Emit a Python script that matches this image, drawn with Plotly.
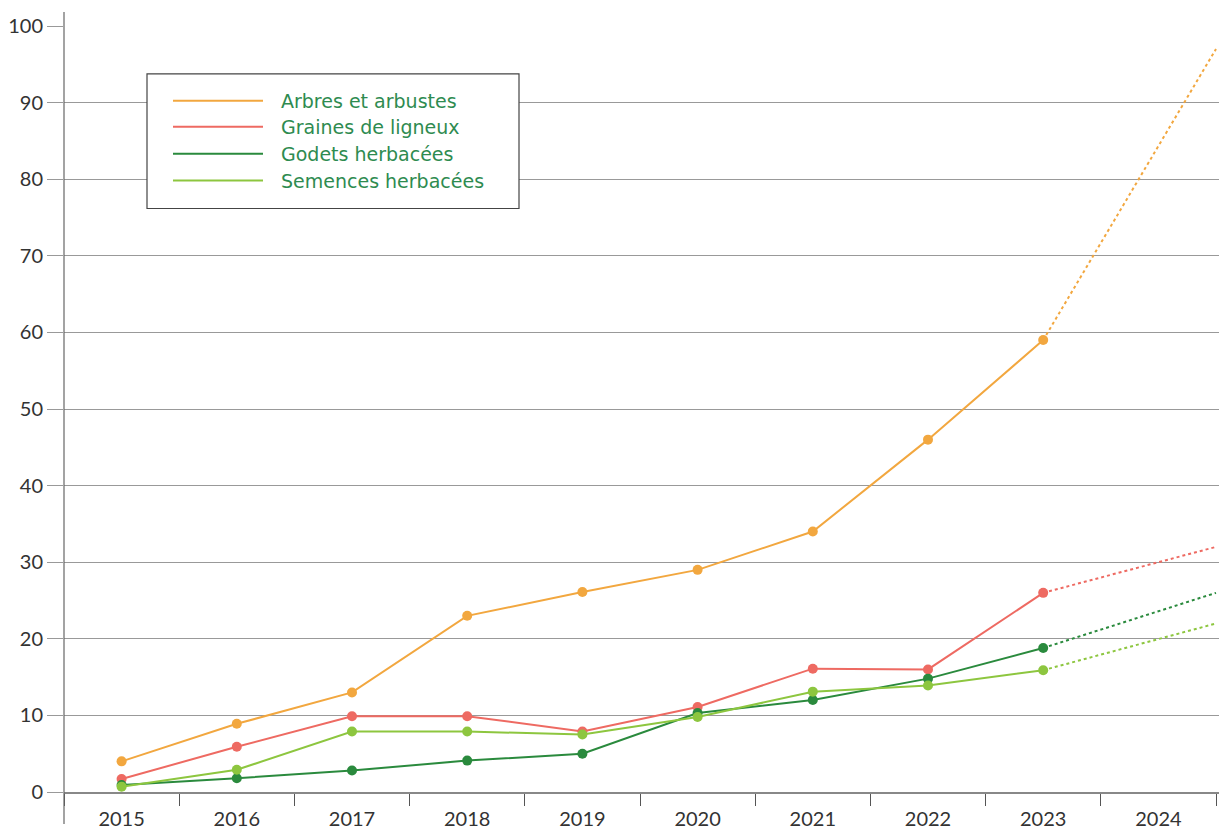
import plotly.graph_objects as go

years = [2015, 2016, 2017, 2018, 2019, 2020, 2021, 2022, 2023]
series_names = ["Arbres et arbustes", "Graines de ligneux", "Godets herbacées", "Semences herbacées"]
arbres = [4.0, 8.9, 13.0, 23.0, 26.1, 29.0, 34.0, 46.0, 59.0]
graines = [1.7, 5.9, 9.9, 9.9, 7.9, 11.1, 16.1, 16.0, 26.0]
godets = [0.9, 1.8, 2.8, 4.1, 5.0, 10.3, 12.0, 14.8, 18.8]
semences = [0.7, 2.9, 7.9, 7.9, 7.5, 9.8, 13.1, 13.9, 15.9]
# projected values at the right edge of the 2024 band
proj_x = 2024.5
proj_values = [97.0, 32.0, 26.0, 22.0]
colors = ["#F2A73F", "#EE6A62", "#2A8A3D", "#8DC63F"]
tick_years = [2015, 2016, 2017, 2018, 2019, 2020, 2021, 2022, 2023, 2024]
y_ticks = [0, 10, 20, 30, 40, 50, 60, 70, 80, 90, 100]

W, H = 1219, 830
L, R, T, B = 64, 0, 26, 36
pw, ph = W - L - R, H - T - B

def px(x):
    return (x - L) / pw

def py(y):
    return (H - B - y) / ph

fig = go.Figure()
all_series = [arbres, graines, godets, semences]
for name, vals, col, pv in zip(series_names, all_series, colors, proj_values):
    fig.add_trace(go.Scatter(x=[years[-1], proj_x], y=[vals[-1], pv], mode="lines",
                             line=dict(color=col, width=2, dash="dot"),
                             showlegend=False, hoverinfo="skip", cliponaxis=False))
for name, vals, col in zip(series_names, all_series, colors):
    fig.add_trace(go.Scatter(x=years, y=vals, mode="lines+markers", name=name,
                             line=dict(color=col, width=2),
                             marker=dict(color=col, size=10),
                             showlegend=False, cliponaxis=False))

shapes = []
# extended vertical axis line
shapes.append(dict(type="line", xref="paper", yref="paper", x0=0, x1=0,
                   y0=py(826), y1=py(12), line=dict(color="#666666", width=1.2)))
# legend box
shapes.append(dict(type="rect", xref="paper", yref="paper", x0=px(147), x1=px(519),
                   y0=py(209), y1=py(74), fillcolor="white",
                   line=dict(color="#444444", width=1.2)))
annotations = []
leg_y = [101, 127, 154, 181]
for name, col, ly in zip(series_names, colors, leg_y):
    shapes.append(dict(type="line", xref="paper", yref="paper", x0=px(173), x1=px(263),
                       y0=py(ly), y1=py(ly), line=dict(color=col, width=2)))
    annotations.append(dict(xref="paper", yref="paper", x=px(279), y=py(ly), text=name,
                            showarrow=False, xanchor="left", yanchor="middle",
                            font=dict(family="DejaVu Sans, sans-serif", size=19, color="#2E8B50")))

fig.update_layout(
    width=W, height=H,
    margin=dict(l=L, r=R, t=T, b=B, pad=0),
    paper_bgcolor="white", plot_bgcolor="white",
    shapes=shapes, annotations=annotations,
    font=dict(family="Lato, sans-serif", color="#333333"),
    xaxis=dict(range=[2014.5, 2024.526], tickvals=tick_years, ticktext=[str(t) for t in tick_years],
               ticks="", showgrid=False, zeroline=False, showline=True,
               linecolor="#888888", linewidth=1.5, ticklabelstandoff=8,
               tickfont=dict(size=20, color="#333333"),
               minor=dict(tickvals=[t - 0.5 for t in tick_years] + [2024.5], ticks="outside",
                          ticklen=12, tickcolor="#555555", tickwidth=1.2, showgrid=False)),
    yaxis=dict(range=[0, 100], tickvals=y_ticks, showgrid=True, gridcolor="#999999", gridwidth=1,
               zeroline=False, showline=False, ticks="outside", ticklen=16, tickcolor="#999999",
               tickwidth=1, tickfont=dict(size=20, color="#333333")),
)
fig.write_html("out.html", config={"displayModeBar": False},
               post_script="document.body.style.margin='0';document.body.style.overflow='hidden';")
